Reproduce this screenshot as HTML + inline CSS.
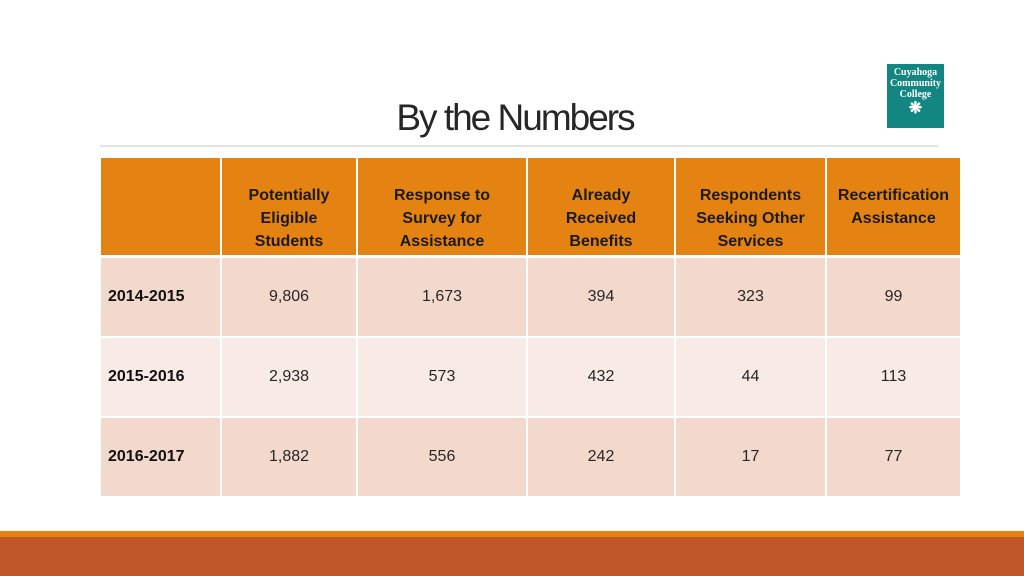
<!DOCTYPE html>
<html><head><meta charset="utf-8"><style>
body{margin:0;width:1024px;height:576px;background:#fff;position:relative;overflow:hidden;font-family:"Liberation Sans",sans-serif}
.a{position:absolute}
.c{position:absolute;display:flex;align-items:center;justify-content:center;text-align:center;font-size:16px;color:#262626;box-sizing:border-box}
.h{background:#E48312;font-weight:bold;color:#1a1a1a;line-height:23px;padding-top:24px}
</style></head><body>
<div class="a" style="left:0;width:1030px;top:97px;text-align:center;font-size:37px;color:#262626;letter-spacing:-2px">By the Numbers</div>
<div class="a" style="left:100px;top:145px;width:838px;height:2px;background:#e3e3e3"></div>
<div class="a" style="left:887px;top:64px;width:57px;height:64px;background:#138681;color:#fff;font-family:'Liberation Serif',serif;font-size:10px;line-height:11px;text-align:center;font-weight:bold"><div style="padding-top:3px">Cuyahoga<br>Community<br>College</div><div style="font-size:16px;line-height:18px">❋</div></div>
<div id="t"></div>
<div class="a" style="left:0;top:531px;width:1024px;height:6px;background:#E48312"></div>
<div class="a" style="left:0;top:537px;width:1024px;height:39px;background:#BE582B"></div>
<script>
const headers=["","Potentially<br>Eligible<br>Students","Response to<br>Survey for<br>Assistance","Already<br>Received<br>Benefits","Respondents<br>Seeking Other<br>Services","Recertification<br>Assistance<br>&nbsp;"];
const years=["2014-2015","2015-2016","2016-2017"];
const values=[["9,806","1,673","394","323","99"],["2,938","573","432","44","113"],["1,882","556","242","17","77"]];
const xs=[100,221,357,527,675,826,961];
const ys=[157,257,337,417,497];
const t=document.getElementById('t');
function cell(x0,x1,y0,y1,html,cls,bg,name,left){
 const d=document.createElement('div');
 d.className='c '+cls;
 
 
 d.style.left=(x0+1)+'px';d.style.width=(x1-x0-2)+'px';
 d.style.top=(y0+1)+'px';d.style.height=(y1-y0-2)+'px';
 if(bg)d.style.background=bg;
 if(left){d.style.justifyContent='flex-start';d.style.paddingLeft='7px';d.style.fontWeight='bold';d.style.color='#111';}
 d.innerHTML=html;t.appendChild(d);
}
for(let c=0;c<6;c++)cell(xs[c],xs[c+1],ys[0],ys[1]-1,headers[c],'h','','header-cell');
for(let r=0;r<3;r++){
 const bg=r%2===0?'#F3D9CC':'#F8EBE6';
 cell(xs[0],xs[1],ys[r+1],ys[r+2],years[r],'',bg,'row-label',true);
 for(let c=0;c<5;c++)cell(xs[c+1],xs[c+2],ys[r+1],ys[r+2],values[r][c],'',bg,'value-cell');
}
</script>
</body></html>
